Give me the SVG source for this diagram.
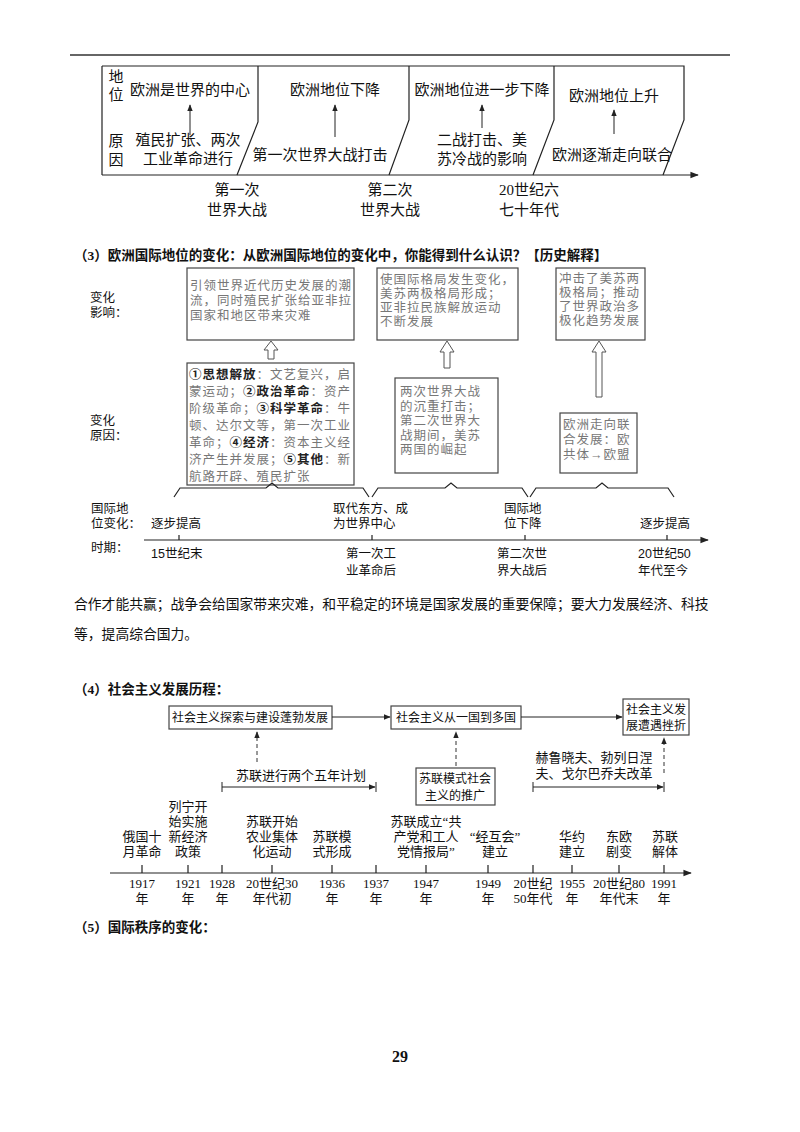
<svg xmlns="http://www.w3.org/2000/svg" width="800" height="1132" viewBox="0 0 800 1132">
<style>
text{font-family:"Liberation Serif","Noto Sans CJK SC",sans-serif;fill:#111}
.a{font-size:15px;text-anchor:middle}
.h{font-size:13.5px;font-weight:bold}
.g{font-size:12.5px;fill:#777;letter-spacing:1px}
.gb{font-weight:bold;fill:#222}
.s{font-size:12.5px;font-family:"Liberation Sans","Noto Sans CJK SC",sans-serif}
.e{font-size:13px;text-anchor:middle}
.bt{font-size:12px;text-anchor:middle}
.ln{fill:none;stroke:#222;stroke-width:1.2}
.bx{fill:#fff;stroke:#444;stroke-width:1.2}
.ha{fill:#fff;stroke:#555;stroke-width:1}
.d{fill:none;stroke:#333;stroke-width:1;stroke-dasharray:4 3}
</style>
<defs>
<marker id="ar" viewBox="0 0 10 10" refX="9" refY="5" markerWidth="7" markerHeight="7" orient="auto"><path d="M0,1 L10,5 L0,9 z" fill="#222"/></marker>
</defs>
<line x1="70" y1="55" x2="730" y2="55" stroke="#333" stroke-width="1.5"/>

<g id="top-europe">
<path class="ln" d="M102,66 L684,66 L684,120 L663,175 M102,66 L102,175 M258,66 L258,122 L237,175 M409,66 L409,120 L389,175 M554,66 L554,120 L533,175"/>
<line x1="102" y1="175" x2="698" y2="175" stroke="#222" stroke-width="1.2" marker-end="url(#ar)"/>
<text class="a" x="116" y="82">地</text><text class="a" x="116" y="100">位</text>
<text class="a" x="116" y="146">原</text><text class="a" x="116" y="165">因</text>
<text class="a" x="190" y="95">欧洲是世界的中心</text>
<line x1="190" y1="135" x2="190" y2="105" stroke="#222" marker-end="url(#ar)"/>
<text class="a" x="188" y="145">殖民扩张、两次</text><text class="a" x="188" y="164">工业革命进行</text>
<text class="a" x="335" y="95">欧洲地位下降</text>
<line x1="335" y1="137" x2="335" y2="105" stroke="#222" marker-end="url(#ar)"/>
<text class="a" x="320" y="160">第一次世界大战打击</text>
<text class="a" x="482" y="95">欧洲地位进一步下降</text>
<line x1="482" y1="128" x2="482" y2="105" stroke="#222" marker-end="url(#ar)"/>
<text class="a" x="482" y="145">二战打击、美</text><text class="a" x="482" y="164">苏冷战的影响</text>
<text class="a" x="614" y="101">欧洲地位上升</text>
<line x1="614" y1="134" x2="614" y2="110" stroke="#222" marker-end="url(#ar)"/>
<text class="a" x="612" y="160">欧洲逐渐走向联合</text>
<text class="a" x="237" y="195">第一次</text><text class="a" x="237" y="215">世界大战</text>
<text class="a" x="390" y="195">第二次</text><text class="a" x="390" y="215">世界大战</text>
<text class="a" x="529" y="195">20世纪六</text><text class="a" x="529" y="215">七十年代</text>
</g>

<text class="h" x="74" y="260">（3）欧洲国际地位的变化：从欧洲国际地位的变化中，你能得到什么认识？【历史解释】</text>

<g id="sec3">
<text class="s" x="90" y="302">变化</text><text class="s" x="90" y="317">影响：</text>
<text class="s" x="90" y="425">变化</text><text class="s" x="90" y="440">原因：</text>
<rect class="bx" x="187" y="268" width="167" height="72"/>
<text class="g" x="190" y="290">引领世界近代历史发展的潮</text>
<text class="g" x="190" y="305">流，同时殖民扩张给亚非拉</text>
<text class="g" x="190" y="320">国家和地区带来灾难</text>
<rect class="bx" x="377" y="268" width="141" height="72"/>
<text class="g" x="380" y="284">使国际格局发生变化，</text>
<text class="g" x="380" y="298">美苏两极格局形成；</text>
<text class="g" x="380" y="312">亚非拉民族解放运动</text>
<text class="g" x="380" y="326">不断发展</text>
<rect class="bx" x="556" y="268" width="89" height="72"/>
<text class="g" x="559" y="283">冲击了美苏两</text>
<text class="g" x="559" y="297">极格局；推动</text>
<text class="g" x="559" y="311">了世界政治多</text>
<text class="g" x="559" y="325">极化趋势发展</text>
<rect class="bx" x="187" y="363" width="167" height="122"/>
<text class="g" x="189" y="379"><tspan class="gb">①思想解放</tspan>：文艺复兴，启</text>
<text class="g" x="189" y="396">蒙运动；<tspan class="gb">②政治革命</tspan>：资产</text>
<text class="g" x="189" y="413">阶级革命；<tspan class="gb">③科学革命</tspan>：牛</text>
<text class="g" x="189" y="430">顿、达尔文等，第一次工业</text>
<text class="g" x="189" y="447">革命；<tspan class="gb">④经济</tspan>：资本主义经</text>
<text class="g" x="189" y="464">济产生并发展；<tspan class="gb">⑤其他</tspan>：新</text>
<text class="g" x="189" y="481">航路开辟、殖民扩张</text>
<rect class="bx" x="395" y="378" width="103" height="95"/>
<text class="g" x="400" y="396">两次世界大战</text>
<text class="g" x="400" y="411">的沉重打击；</text>
<text class="g" x="400" y="425">第二次世界大</text>
<text class="g" x="400" y="440">战期间，美苏</text>
<text class="g" x="400" y="454">两国的崛起</text>
<rect class="bx" x="560" y="413" width="77" height="60"/>
<text class="g" x="563" y="429">欧洲走向联</text>
<text class="g" x="563" y="444">合发展：欧</text>
<text class="g" x="563" y="459">共体→欧盟</text>
<path class="ha" d="M268,359 L268,350 L264,350 L271,341 L278,350 L274,350 L274,359 Z"/>
<path class="ha" d="M444,368 L444,352 L440,352 L447,341 L454,352 L450,352 L450,368 Z"/>
<path class="ha" d="M596,397 L596,352 L592,352 L599,341 L606,352 L602,352 L602,397 Z"/>
<path class="ln" stroke="#666" d="M174,497 L180,488 L266,488 L272,483 L278,488 L363,488 L369,497 M372,497 L378,488 L445,488 L451,483 L457,488 L522,488 L528,497 M530,497 L536,488 L596,488 L602,483 L608,488 L668,488 L674,497"/>
<text class="s" x="91" y="513">国际地</text><text class="s" x="91" y="528">位变化：</text>
<text class="s" x="151" y="528">逐步提高</text>
<text class="s" x="333" y="513">取代东方、成</text><text class="s" x="333" y="528">为世界中心</text>
<text class="s" x="504" y="513">国际地</text><text class="s" x="504" y="528">位下降</text>
<text class="s" x="640" y="528">逐步提高</text>
<line x1="144" y1="540" x2="708" y2="540" stroke="#222" stroke-width="1.2" marker-end="url(#ar)"/>
<path class="ln" d="M179,540 L179,535 M372,540 L372,535 M525,540 L525,535 M667,540 L667,535"/>
<text class="s" x="91" y="552">时期：</text>
<text class="s" x="151" y="558">15世纪末</text>
<text class="s" x="346" y="558">第一次工</text><text class="s" x="346" y="575">业革命后</text>
<text class="s" x="497" y="558">第二次世</text><text class="s" x="497" y="575">界大战后</text>
<text class="s" x="638" y="558">20世纪50</text><text class="s" x="638" y="575">年代至今</text>
</g>

<text x="74" y="609" style="font-size:13.8px">合作才能共赢；战争会给国家带来灾难，和平稳定的环境是国家发展的重要保障；要大力发展经济、科技</text>
<text x="74" y="639" style="font-size:13.8px">等，提高综合国力。</text>

<text class="h" x="74" y="694">（4）社会主义发展历程：</text>

<g id="sec4">
<rect class="bx" x="169" y="706" width="163" height="23"/>
<text class="bt" x="250" y="722">社会主义探索与建设蓬勃发展</text>
<rect class="bx" x="391" y="706" width="130" height="23"/>
<text class="bt" x="456" y="722">社会主义从一国到多国</text>
<rect class="bx" x="623" y="699" width="66" height="36"/>
<text class="bt" x="656" y="714">社会主义发</text><text class="bt" x="656" y="730">展遭遇挫折</text>
<rect class="bx" x="416" y="768" width="79" height="37"/>
<text class="bt" x="455" y="783">苏联模式社会</text><text class="bt" x="455" y="800">主义的推广</text>
</g>
<g id="connectors">
<line x1="332" y1="717" x2="390" y2="717" stroke="#222" marker-end="url(#ar)"/>
<line x1="521" y1="717" x2="622" y2="717" stroke="#222" marker-end="url(#ar)"/>
<line class="d" x1="257" y1="762" x2="257" y2="732" marker-end="url(#ar)"/>
<line class="d" x1="456" y1="766" x2="456" y2="732" marker-end="url(#ar)"/>
<line class="d" x1="664" y1="773" x2="664" y2="738" marker-end="url(#ar)"/>
<line x1="222" y1="782" x2="222" y2="792" stroke="#222"/>
<line x1="222" y1="787" x2="375" y2="787" stroke="#222" marker-end="url(#ar)"/>
<line x1="376" y1="782" x2="376" y2="792" stroke="#222"/>
<line x1="533" y1="782" x2="533" y2="792" stroke="#222"/>
<line x1="533" y1="787" x2="663" y2="787" stroke="#222" marker-end="url(#ar)"/>
<line x1="664" y1="782" x2="664" y2="792" stroke="#222"/>
<line x1="110" y1="873" x2="691" y2="873" stroke="#222" stroke-width="1.2" marker-end="url(#ar)"/>
<path class="ln" d="M142,873V865 M188,873V865 M222,873V865 M272,873V865 M332,873V865 M376,873V865 M426,873V865 M488,873V865 M533,873V865 M572,873V865 M619,873V865 M664,873V865"/>
</g>
<g id="sec4-labels">
<text class="e" x="301" y="780">苏联进行两个五年计划</text>
<text class="e" x="594" y="762">赫鲁晓夫、勃列日涅</text><text class="e" x="594" y="778">夫、戈尔巴乔夫改革</text>
<text class="e" x="142" y="841">俄国十</text><text class="e" x="142" y="856">月革命</text>
<text class="e" x="188" y="811">列宁开</text><text class="e" x="188" y="826">始实施</text><text class="e" x="188" y="841">新经济</text><text class="e" x="188" y="856">政策</text>
<text class="e" x="272" y="826">苏联开始</text><text class="e" x="272" y="841">农业集体</text><text class="e" x="272" y="856">化运动</text>
<text class="e" x="332" y="841">苏联模</text><text class="e" x="332" y="856">式形成</text>
<text class="e" x="426" y="826">苏联成立“共</text><text class="e" x="426" y="841">产党和工人</text><text class="e" x="426" y="856">党情报局”</text>
<text class="e" x="495" y="841">“经互会”</text><text class="e" x="495" y="856">建立</text>
<text class="e" x="572" y="841">华约</text><text class="e" x="572" y="856">建立</text>
<text class="e" x="619" y="841">东欧</text><text class="e" x="619" y="856">剧变</text>
<text class="e" x="665" y="841">苏联</text><text class="e" x="665" y="856">解体</text>
<text class="e" x="142" y="888">1917</text><text class="e" x="142" y="903">年</text>
<text class="e" x="188" y="888">1921</text><text class="e" x="188" y="903">年</text>
<text class="e" x="222" y="888">1928</text><text class="e" x="222" y="903">年</text>
<text class="e" x="272" y="888">20世纪30</text><text class="e" x="272" y="903">年代初</text>
<text class="e" x="332" y="888">1936</text><text class="e" x="332" y="903">年</text>
<text class="e" x="376" y="888">1937</text><text class="e" x="376" y="903">年</text>
<text class="e" x="426" y="888">1947</text><text class="e" x="426" y="903">年</text>
<text class="e" x="488" y="888">1949</text><text class="e" x="488" y="903">年</text>
<text class="e" x="533" y="888">20世纪</text><text class="e" x="533" y="903">50年代</text>
<text class="e" x="572" y="888">1955</text><text class="e" x="572" y="903">年</text>
<text class="e" x="619" y="888">20世纪80</text><text class="e" x="619" y="903">年代末</text>
<text class="e" x="664" y="888">1991</text><text class="e" x="664" y="903">年</text>
</g>

<text class="h" x="74" y="932">（5）国际秩序的变化：</text>
<text x="400" y="1062" style="font-size:16px;font-weight:bold;text-anchor:middle">29</text>
</svg>
